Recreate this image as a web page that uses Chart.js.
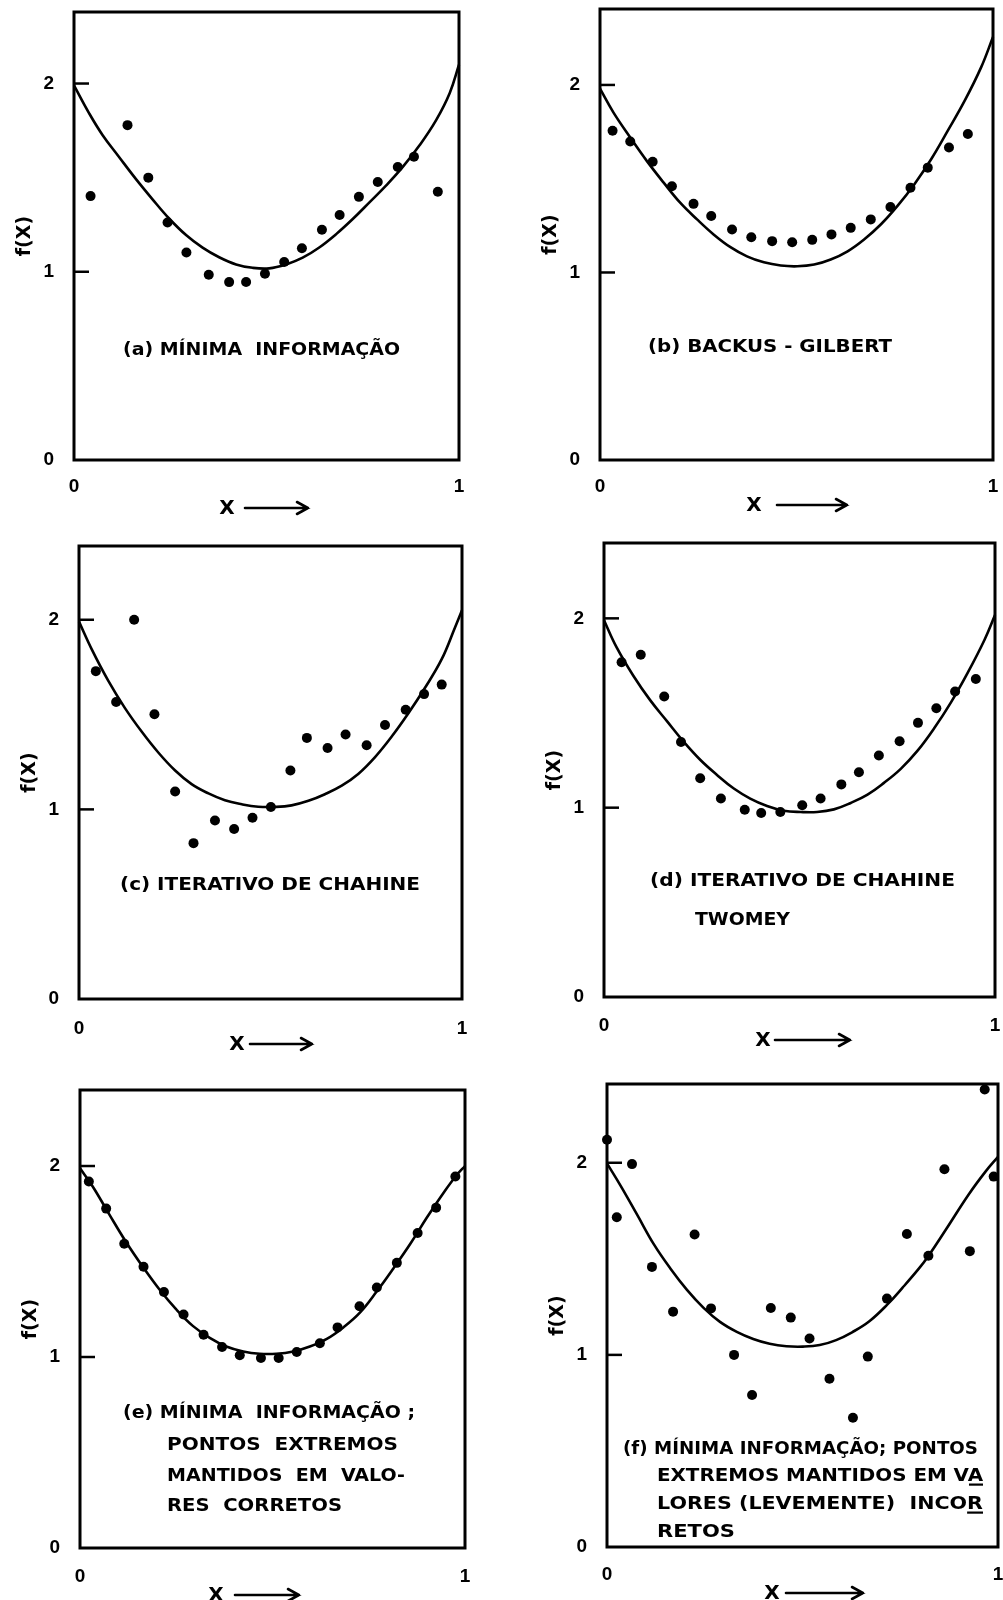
<!DOCTYPE html>
<html><head><meta charset="utf-8">
<script src="https://cdn.jsdelivr.net/npm/chart.js@4.4.1/dist/chart.umd.min.js"></script>
<style>
html,body{margin:0;padding:0;background:#fff;width:1003px;height:1600px;overflow:hidden;position:relative}
canvas{position:absolute}
</style></head><body>
<script>
// ---- tick labels / titles ----
const xTickValues = [0, 1];
const xTickLabels = ['0', '1'];
const yTickValues = [0, 1, 2];
const yTickLabels = ['0', '1', '2'];
const yInnerTicks = [1, 2];
const yTitleText = 'f(X)';
const xTitleText = 'X';

// ---- panel (a) ----
const aPointX = [0.043,0.139,0.193,0.243,0.292,0.350,0.403,0.447,0.496,0.546,0.592,0.644,0.690,0.740,0.789,0.841,0.883,0.945];
const aPointY = [1.402,1.779,1.500,1.262,1.102,0.984,0.945,0.946,0.989,1.052,1.125,1.223,1.302,1.398,1.477,1.557,1.611,1.425];
const aCurveX = [0,0.039,0.074,0.117,0.160,0.204,0.247,0.291,0.334,0.377,0.421,0.464,0.507,0.551,0.594,0.637,0.681,0.724,0.768,0.811,0.854,0.898,0.941,0.976,1.0];
const aCurveY = [1.99,1.843,1.727,1.61,1.495,1.385,1.283,1.195,1.128,1.077,1.039,1.021,1.018,1.039,1.075,1.129,1.2,1.28,1.37,1.459,1.557,1.673,1.807,1.95,2.10];
const aCaption = ['(a) MÍNIMA  INFORMAÇÃO'];

// ---- panel (b) ----
const bPointX = [0.032,0.077,0.134,0.183,0.238,0.283,0.336,0.385,0.438,0.489,0.540,0.589,0.638,0.689,0.739,0.790,0.834,0.888,0.936];
const bPointY = [1.756,1.698,1.590,1.460,1.366,1.301,1.229,1.188,1.167,1.161,1.174,1.203,1.238,1.283,1.349,1.452,1.559,1.666,1.738];
const bCurveX = [0,0.034,0.077,0.119,0.162,0.204,0.247,0.289,0.332,0.374,0.417,0.46,0.502,0.545,0.587,0.63,0.672,0.715,0.757,0.8,0.843,0.885,0.928,0.97,1.0];
const bCurveY = [1.980,1.854,1.720,1.595,1.479,1.372,1.283,1.203,1.135,1.086,1.054,1.037,1.033,1.042,1.069,1.113,1.176,1.257,1.355,1.471,1.605,1.756,1.916,2.095,2.256];
const bCaption = ['(b) BACKUS - GILBERT'];

// ---- panel (c) ----
const cPointX = [0.044,0.097,0.144,0.197,0.251,0.299,0.355,0.405,0.453,0.501,0.552,0.595,0.649,0.696,0.751,0.799,0.853,0.901,0.947];
const cPointY = [1.729,1.566,2.000,1.502,1.094,0.822,0.941,0.897,0.956,1.013,1.205,1.377,1.324,1.395,1.338,1.445,1.525,1.608,1.658];
const cCurveX = [0,0.033,0.077,0.12,0.164,0.207,0.251,0.294,0.338,0.381,0.425,0.468,0.512,0.555,0.599,0.642,0.686,0.729,0.773,0.816,0.86,0.903,0.947,0.982,1.0];
const cCurveY = [1.99,1.845,1.676,1.534,1.409,1.300,1.205,1.133,1.084,1.048,1.027,1.014,1.013,1.021,1.045,1.08,1.125,1.187,1.276,1.383,1.507,1.64,1.792,1.961,2.05];
const cCaption = ['(c) ITERATIVO DE CHAHINE'];

// ---- panel (d) ----
const dPointX = [0.045,0.094,0.154,0.197,0.246,0.299,0.360,0.402,0.451,0.507,0.554,0.607,0.652,0.703,0.756,0.803,0.850,0.898,0.951];
const dPointY = [1.768,1.808,1.587,1.347,1.155,1.048,0.989,0.972,0.977,1.013,1.048,1.123,1.187,1.276,1.351,1.448,1.525,1.614,1.680];
const dCurveX = [0,0.032,0.075,0.118,0.161,0.203,0.246,0.289,0.332,0.374,0.417,0.46,0.503,0.545,0.588,0.631,0.674,0.716,0.759,0.802,0.844,0.887,0.93,0.973,1.0];
const dCurveY = [1.99,1.848,1.697,1.568,1.457,1.35,1.253,1.173,1.101,1.048,1.009,0.984,0.977,0.977,0.991,1.025,1.069,1.131,1.205,1.301,1.418,1.555,1.712,1.886,2.018];
const dCaption = ['(d) ITERATIVO DE CHAHINE', 'TWOMEY'];

// ---- panel (e) ----
const ePointX = [0.023,0.068,0.115,0.165,0.218,0.269,0.321,0.369,0.415,0.470,0.516,0.563,0.623,0.669,0.726,0.771,0.823,0.877,0.925,0.975];
const ePointY = [1.919,1.777,1.593,1.473,1.340,1.223,1.117,1.052,1.009,0.995,0.995,1.026,1.072,1.155,1.266,1.364,1.493,1.649,1.782,1.945];
const eCurveX = [0,0.033,0.076,0.12,0.163,0.207,0.25,0.293,0.337,0.38,0.424,0.467,0.51,0.554,0.597,0.641,0.684,0.727,0.771,0.814,0.858,0.901,0.944,0.979,1.0];
const eCurveY = [1.988,1.893,1.747,1.601,1.473,1.352,1.249,1.163,1.1,1.055,1.029,1.017,1.017,1.029,1.055,1.095,1.155,1.232,1.344,1.464,1.593,1.73,1.859,1.954,2.0];
const eCaption = ['(e) MÍNIMA  INFORMAÇÃO ;', 'PONTOS  EXTREMOS', 'MANTIDOS  EM  VALO-', 'RES  CORRETOS'];

// ---- panel (f) ----
const fPointX = [0.000,0.025,0.064,0.115,0.169,0.224,0.266,0.325,0.371,0.419,0.470,0.518,0.569,0.629,0.667,0.716,0.767,0.822,0.863,0.928,0.966,0.989];
const fPointY = [2.12,1.716,1.993,1.458,1.225,1.627,1.242,1.000,0.791,1.244,1.194,1.085,0.876,0.673,0.991,1.293,1.629,1.516,1.966,1.540,2.381,1.928];
const fCurveX = [0,0.035,0.077,0.12,0.162,0.204,0.247,0.289,0.332,0.374,0.416,0.459,0.501,0.544,0.586,0.628,0.671,0.716,0.756,0.798,0.822,0.866,0.925,0.968,1.0];
const fCurveY = [1.997,1.88,1.73,1.575,1.45,1.34,1.245,1.172,1.12,1.083,1.058,1.045,1.043,1.051,1.077,1.119,1.175,1.26,1.35,1.45,1.515,1.65,1.835,1.954,2.031];
const fCaption = ['(f) MÍNIMA INFORMAÇÃO; PONTOS', 'EXTREMOS MANTIDOS EM VA', 'LORES (LEVEMENTE)  INCOR', 'RETOS'];
const fUnderlineLast = [false, true, true, false];

// ---- layout: plot box in page pixels, axis range, caption/axis-title placement ----
const layouts = [
  {pts:[aPointX,aPointY], crv:[aCurveX,aCurveY], cap:aCaption, box:{l:74,t:12,r:459,b:460}, yr:[0,2.38], xPad:15,
   capPos:[{dx:49,dy:336,w:277}], xt:{c:153,a1:171,a2:234,dy:48}},
  {pts:[bPointX,bPointY], crv:[bCurveX,bCurveY], cap:bCaption, box:{l:600,t:9,r:993,b:460}, yr:[0,2.405], xPad:15,
   capPos:[{dx:48,dy:336,w:244}], xt:{c:154,a1:177,a2:247,dy:45}},
  {pts:[cPointX,cPointY], crv:[cCurveX,cCurveY], cap:cCaption, box:{l:79,t:546,r:462,b:999}, yr:[0,2.389], xPad:18,
   capPos:[{dx:41,dy:337,w:300}], xt:{c:158,a1:171,a2:233,dy:45}},
  {pts:[dPointX,dPointY], crv:[dCurveX,dCurveY], cap:dCaption, box:{l:604,t:543,r:995,b:997}, yr:[0,2.398], xPad:17,
   capPos:[{dx:46,dy:336,w:305},{dx:91,dy:375,w:95}], xt:{c:159,a1:171,a2:246,dy:43}},
  {pts:[ePointX,ePointY], crv:[eCurveX,eCurveY], cap:eCaption, box:{l:80,t:1090,r:465,b:1548}, yr:[0,2.398], xPad:17,
   capPos:[{dx:43,dy:321,w:292},{dx:87,dy:353,w:231},{dx:87,dy:384,w:238},{dx:87,dy:414,w:175}],
   xt:{c:136,a1:155,a2:219,dy:47}},
  {pts:[fPointX,fPointY], crv:[fCurveX,fCurveY], cap:fCaption, ul:fUnderlineLast, box:{l:607,t:1084,r:1000,b:1547}, yr:[0,2.41], xPad:16,
   capPos:[{dx:16,dy:363,w:355},{dx:50,dy:390,w:326},{dx:50,dy:418,w:326},{dx:50,dy:446,w:78}],
   xt:{c:165,a1:179,a2:256,dy:46}}
];

const FONT = '"DejaVu Sans", "Liberation Sans", sans-serif';
const NUM_FONT = '"Liberation Sans", Arial, sans-serif';
const LEFT_W = 72, TOP_P = 14, BOTTOM_H = 75;

function zip(xs, ys){ return xs.map((x,i)=>({x:x, y:ys[i]})); }

layouts.forEach(L => {
  const box = L.box;
  const pr = Math.min(14, 1003 - box.r);
  const cw = box.r - box.l + LEFT_W + pr;
  const ch = box.b - box.t + TOP_P + BOTTOM_H;
  const cv = document.createElement('canvas');
  cv.width = cw; cv.height = ch;
  cv.style.left = (box.l - LEFT_W) + 'px';
  cv.style.top = (box.t - TOP_P) + 'px';
  cv.style.width = cw + 'px'; cv.style.height = ch + 'px';
  document.body.appendChild(cv);

  const panelPlugin = {
    id: 'panelDeco',
    beforeDatasetsDraw(chart){
      const {ctx, chartArea:a, scales:{y}} = chart;
      ctx.save();
      ctx.strokeStyle = '#000';
      ctx.lineWidth = 3;
      ctx.strokeRect(a.left, a.top, a.right - a.left, a.bottom - a.top);
      ctx.lineWidth = 2.5;
      yInnerTicks.forEach(v => {
        const py = y.getPixelForValue(v);
        ctx.beginPath(); ctx.moveTo(a.left, py); ctx.lineTo(a.left + 15, py); ctx.stroke();
      });
      ctx.restore();
    },
    afterDraw(chart){
      const {ctx, chartArea:a} = chart;
      ctx.save();
      ctx.fillStyle = '#000';
      ctx.strokeStyle = '#000';
      // captions
      ctx.font = 'bold 18px ' + FONT;
      ctx.textBaseline = 'alphabetic';
      ctx.textAlign = 'left';
      L.cap.forEach((txt, i) => {
        const p = L.capPos[i];
        const px = a.left + p.dx, py = a.top + p.dy;
        const w = ctx.measureText(txt).width;
        ctx.save();
        ctx.translate(px, py + 6.5);
        ctx.scale(p.w / w, 1);
        ctx.fillText(txt, 0, 0);
        if (L.ul && L.ul[i]) {
          const pre = ctx.measureText(txt.slice(0, -1)).width;
          ctx.fillRect(pre, 3, w - pre, 2.2);
        }
        ctx.restore();
      });
      // x axis title with arrow
      const ty = a.bottom + L.xt.dy;
      ctx.font = 'bold 20px ' + FONT;
      ctx.textAlign = 'center';
      ctx.textBaseline = 'middle';
      ctx.fillText(xTitleText, a.left + L.xt.c, ty + 1);
      ctx.lineWidth = 2.6;
      ctx.lineCap = 'round';
      ctx.beginPath();
      ctx.moveTo(a.left + L.xt.a1, ty); ctx.lineTo(a.left + L.xt.a2, ty);
      ctx.moveTo(a.left + L.xt.a2 - 11, ty - 6); ctx.lineTo(a.left + L.xt.a2, ty); ctx.lineTo(a.left + L.xt.a2 - 11, ty + 6);
      ctx.stroke();
      ctx.restore();
    }
  };

  new Chart(cv, {
    type: 'scatter',
    data: {
      datasets: [
        {type:'scatter', data: zip(L.pts[0], L.pts[1]), pointRadius:5, pointHoverRadius:5,
         pointBackgroundColor:'#000', pointBorderColor:'#000', pointBorderWidth:0, showLine:false, clip:false},
        {type:'line', data: zip(L.crv[0], L.crv[1]), borderColor:'#000', borderWidth:2.6,
         pointRadius:0, tension:0.4, fill:false, clip:false}
      ]
    },
    options: {
      responsive:false, animation:false, events:[],
      layout:{padding:{left:0, top:TOP_P, right:pr, bottom:0}},
      plugins:{legend:{display:false}, tooltip:{enabled:false}},
      scales:{
        x:{type:'linear', min:0, max:1,
           grid:{display:false, drawTicks:false}, border:{display:false},
           afterBuildTicks: s => { s.ticks = xTickValues.map(v => ({value:v})); },
           ticks:{padding:L.xPad, color:'#000', font:{family:NUM_FONT, weight:'bold', size:19},
                  callback:(v) => xTickLabels[xTickValues.indexOf(v)], maxRotation:0, autoSkip:false},
           afterFit: s => { s.height = BOTTOM_H; s.paddingLeft = 0; s.paddingRight = 0; }},
        y:{type:'linear', min:L.yr[0], max:L.yr[1],
           grid:{display:false, drawTicks:false}, border:{display:false},
           afterBuildTicks: s => { s.ticks = yTickValues.map(v => ({value:v})); },
           ticks:{padding:20, color:'#000', font:{family:NUM_FONT, weight:'bold', size:19},
                  callback:(v) => yTickLabels[yTickValues.indexOf(v)], autoSkip:false},
           title:{display:true, text:yTitleText, color:'#000', padding:{top:12, bottom:0},
                  font:{family:FONT, weight:'bold', size:19}},
           afterFit: s => { s.width = LEFT_W; s.paddingTop = 0; s.paddingBottom = 0; }}
      }
    },
    plugins:[panelPlugin]
  });
});
</script>
</body></html>
